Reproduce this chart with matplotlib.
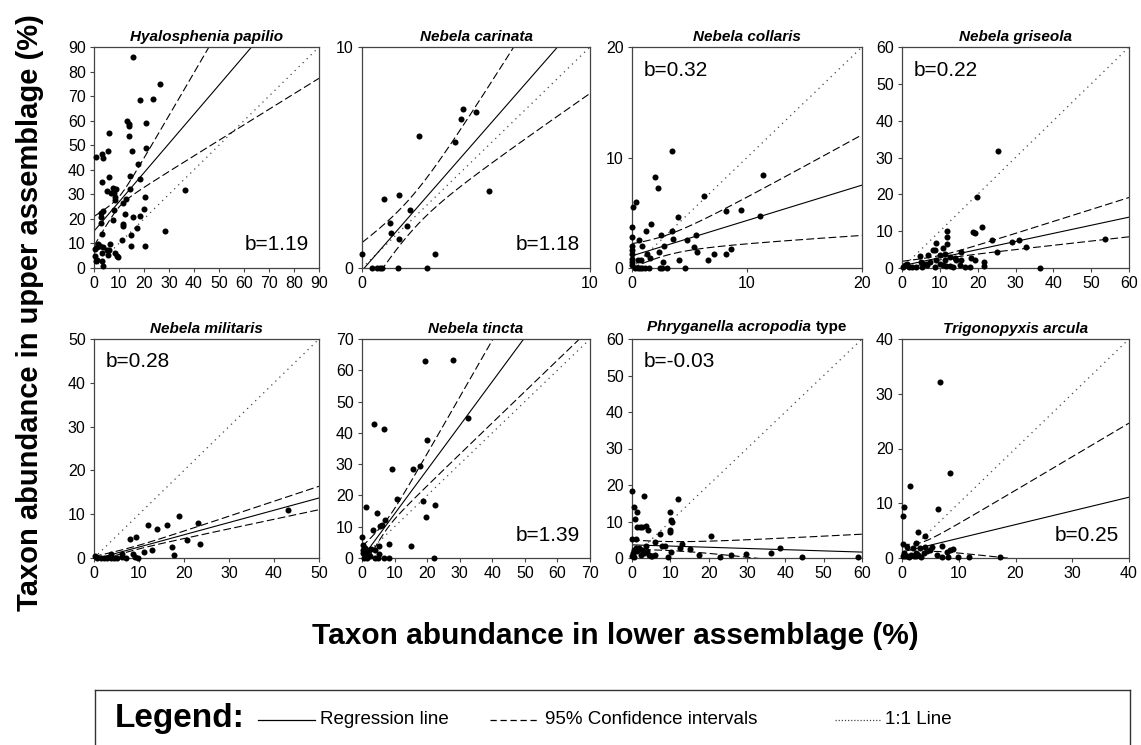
import matplotlib
matplotlib.use("Agg")
import matplotlib.pyplot as plt
import numpy as np
from matplotlib.offsetbox import TextArea, HPacker, AnchoredOffsetbox

plt.rcParams['font.family'] = ['Liberation Sans', 'DejaVu Sans']
NARROW = ['Liberation Sans Narrow', 'Liberation Sans', 'DejaVu Sans']

# (lower assemblage %, upper assemblage %)
papilio = [(15.4, 86), (26.5, 75), (18.2, 68.6), (23.6, 68.9), (13.0, 59.8), (13.9, 58.6),
           (13.9, 57.8), (20.7, 58.9), (6.0, 55.1), (13.8, 53.7), (5.7, 47.8), (15.0, 47.6),
           (20.7, 48.7), (0.7, 45.3), (3.1, 46.3), (3.6, 44.7), (17.4, 42.2), (6.1, 37.2),
           (14.3, 37.5), (18.3, 36.3), (3.3, 35.2), (7.7, 32.5), (8.8, 32.2), (8.1, 30.4),
           (8.4, 29.1), (5.0, 31.5), (6.6, 30.4), (14.5, 32.3), (36.3, 31.8), (20.3, 28.8),
           (8.4, 27.7), (11.7, 26.4), (12.6, 28.0), (3.5, 23.4), (2.9, 22.3), (8.1, 23.7),
           (19.9, 24.0), (2.7, 20.7), (2.9, 18.5), (7.7, 19.6), (12.2, 22.1), (15.4, 20.7),
           (18.3, 21.2), (11.7, 18.0), (11.7, 17.2), (17.3, 16.1), (28.3, 14.9), (3.3, 13.8),
           (11.2, 11.2), (14.6, 13.3), (1.7, 9.9), (2.4, 9.1), (6.4, 9.9), (0.5, 7.7),
           (1.3, 8.5), (3.7, 8.5), (5.0, 7.4), (6.1, 7.2), (14.9, 8.8), (20.2, 8.8),
           (0.5, 4.7), (3.1, 6.1), (8.4, 6.1), (9.0, 5.0), (9.7, 4.5), (5.4, 5.4),
           (0.8, 2.7), (3.3, 2.7), (3.5, 0.7), (1.3, 3.4)]

carinata = [(0, 0.62), (0.44, 0), (0.67, 0), (0.78, 0), (0.89, 0), (1.58, 0), (2.84, 0),
            (3.22, 0.62), (0.98, 3.12), (1.63, 3.31), (2.09, 2.63), (1.22, 2.02), (1.26, 1.57),
            (1.63, 1.31), (1.98, 1.91), (2.50, 5.97), (4.06, 5.71), (4.36, 6.73), (4.44, 7.19),
            (4.98, 7.04), (5.56, 3.50)]

collaris = [(0.06, 5.54), (0.37, 5.93), (0, 3.72), (0, 2.81), (0, 1.97), (0, 1.60), (0, 1.30),
            (0, 0.85), (0, 0.54), (0, 0.24), (0.63, 2.51), (0.83, 1.97), (0.77, 0.70),
            (0.49, 0.70), (1.20, 3.33), (1.64, 3.96), (1.29, 1.30), (1.58, 0.91), (1.98, 8.20),
            (2.30, 7.20), (2.55, 2.97), (2.38, 1.45), (2.78, 1.97), (2.70, 0.54), (3.44, 10.62),
            (3.50, 3.36), (3.59, 2.63), (3.99, 4.60), (4.13, 0.70), (4.79, 2.51), (5.37, 1.91),
            (5.60, 2.97), (5.65, 1.45), (6.23, 6.51), (6.57, 0.70), (7.09, 1.30), (8.18, 5.17),
            (8.18, 1.24), (8.61, 1.69), (9.50, 5.23), (11.1, 4.69), (11.42, 8.44), (0.3, 0),
            (0.5, 0), (0.7, 0), (0.9, 0), (1.1, 0), (1.5, 0), (2.4, 0), (2.6, 0), (3.0, 0),
            (4.6, 0)]

griseola = [(25.5, 31.7), (19.9, 19.2), (21.2, 11.0), (18.8, 9.7), (19.2, 9.4), (12.0, 10.0),
            (12.0, 8.3), (12.0, 6.4), (9.1, 6.7), (8.2, 4.8), (8.8, 4.8), (4.7, 3.2), (6.9, 3.5),
            (10.8, 5.3), (11.4, 3.7), (12.6, 3.0), (13.9, 2.6), (15.5, 4.4), (23.9, 7.6),
            (25.1, 4.4), (29.2, 7.0), (30.8, 7.6), (32.7, 5.7), (53.6, 7.8), (36.4, 0),
            (21.6, 1.6), (21.6, 0.5), (19.2, 2.3), (18.3, 2.6), (18.1, 0.3), (15.2, 0.7),
            (16.6, 0.3), (15.7, 2.1), (10.0, 1.2), (10.8, 0.7), (11.7, 0.5), (12.6, 0.5),
            (13.5, 0.3), (8.6, 0.3), (9.1, 2.1), (6.3, 1.2), (6.7, 0.7), (5.1, 1.6), (5.4, 0.3),
            (3.8, 0.3), (2.7, 0.3), (1.9, 0.3), (0.7, 0.7), (0.3, 0.3), (1.2, 1.2), (5.5, 1.2),
            (7.3, 1.6), (10.0, 3.5), (11.3, 2.3), (14.4, 2.1)]

militaris = [(0.15, 0.5), (0.7, 0.1), (1.5, 0.1), (2.2, 0.1), (2.9, 0.1), (3.7, 0.1), (4.4, 0.1),
             (5.2, 0.1), (6.3, 0.2), (7.0, 0.1), (9.2, 0.2), (9.7, 0.1), (3.7, 1.0), (6.3, 1.0),
             (8.6, 1.0), (8.1, 4.3), (9.4, 4.9), (11.1, 1.4), (12.0, 7.5), (12.8, 1.9),
             (13.9, 6.6), (16.3, 7.5), (17.3, 2.5), (17.8, 0.6), (18.8, 9.65), (20.7, 4.0),
             (23.1, 8.0), (23.5, 3.2), (43.0, 11.0)]

tincta = [(19.3, 63.0), (28.0, 63.3), (32.6, 44.9), (3.8, 42.9), (6.7, 41.2), (20.1, 37.6),
          (9.3, 28.4), (15.6, 28.4), (17.7, 29.3), (10.8, 18.8), (1.2, 16.3), (18.8, 18.2),
          (22.3, 17.0), (19.8, 13.2), (4.6, 14.4), (7.2, 12.0), (6.1, 10.6), (5.6, 10.3),
          (3.4, 9.0), (0.1, 6.6), (8.2, 4.5), (15.0, 3.7), (5.1, 3.7), (22.0, 0), (0.2, 4.3),
          (0.2, 2.7), (0.2, 1.6), (1.0, 3.2), (1.5, 1.6), (2.0, 2.7), (2.9, 3.0), (4.1, 2.7),
          (5.3, 1.4), (0.5, 0), (1.5, 0), (4.1, 0), (4.9, 0), (6.9, 0), (8.2, 0), (2.6, 0.5)]

acropodia = [(0, 18.4), (3.0, 17.0), (12.1, 16.2), (0.4, 13.9), (1.3, 12.7), (0.85, 10.8),
             (9.8, 12.5), (10.2, 10.5), (10.4, 10.0), (1.3, 8.6), (2.1, 8.6), (2.7, 8.6),
             (3.6, 8.7), (4.1, 7.7), (9.8, 7.7), (10.0, 7.1), (7.2, 6.7), (20.6, 6.1), (0, 5.2),
             (1.0, 5.2), (6.1, 4.3), (7.7, 3.4), (8.5, 3.2), (13.1, 3.8), (12.5, 2.7),
             (15.2, 2.5), (17.6, 0.9), (23.0, 0.4), (25.7, 0.9), (29.8, 1.2), (36.3, 1.5),
             (38.5, 2.7), (44.3, 0.4), (9.5, 0.4), (10.1, 1.6), (0.2, 1.4), (0.6, 2.3),
             (1.0, 2.7), (1.4, 1.8), (1.9, 2.7), (2.3, 0.9), (2.7, 2.3), (3.2, 1.4), (3.6, 3.2),
             (4.0, 1.8), (4.4, 0.9), (4.9, 0.5), (5.3, 0.5), (6.1, 0.9), (0.1, 0.5), (0.6, 0.2),
             (59.0, 0.3)]

arcula = [(6.65, 32.2), (8.4, 15.6), (1.35, 13.2), (0.4, 9.3), (0.1, 7.6), (6.35, 9.0),
          (2.8, 4.7), (4.1, 4.0), (0.1, 2.55), (0.9, 2.1), (2.5, 2.7), (1.9, 1.8), (3.2, 1.8),
          (4.0, 2.1), (5.3, 2.0), (7.1, 2.25), (8.4, 1.5), (9.0, 1.6), (7.9, 1.1), (6.2, 0.6),
          (7.1, 0.2), (8.1, 0.2), (9.9, 0.2), (11.8, 0.2), (17.2, 0.2), (0.1, 0.3), (0.5, 0.3),
          (0.9, 0.4), (1.3, 0.2), (1.6, 0.6), (2.1, 0.3), (2.5, 0.4), (2.9, 0.6), (3.4, 0.2),
          (3.8, 0.9), (4.4, 1.2), (5.0, 1.4), (0.3, 0.9), (2.4, 1.0)]

taxa = ["Hyalosphenia papilio", "Nebela carinata", "Nebela collaris", "Nebela griseola",
        "Nebela militaris", "Nebela tincta", "Phryganella acropodia", "Trigonopyxis arcula"]
points = [papilio, carinata, collaris, griseola, militaris, tincta, acropodia, arcula]
axis_max = [90, 10, 20, 60, 50, 70, 60, 40]
tick_step = [10, 10, 10, 10, 10, 10, 10, 10]
b_labels = ["b=1.19", "b=1.18", "b=0.32", "b=0.22", "b=0.28", "b=1.39", "b=-0.03", "b=0.25"]
b_corner = ["lr", "lr", "ul", "ul", "ul", "lr", "ul", "lr"]
# regression line (intercept, slope) and 95% CI band (x mean, half-width at mean, slope error)
reg_intercept = [15.0, -0.12, 1.1, 0.6, -0.3, 0.0, 3.6, 1.1]
reg_slope = [1.19, 1.18, 0.32, 0.22, 0.28, 1.41, -0.033, 0.25]
ci_xmean = [10, 2.13, 2.5, 10, 8, 8, 7, 3]
ci_s0 = [2.1, 0.78, 0.9, 0.6, 0.4, 1.5, 1.2, 0.87]
ci_k = [0.56, 0.47, 0.255, 0.106, 0.063, 0.41, 0.0897, 0.365]

W, H = 1141, 745
fig = plt.figure(figsize=(W / 100, H / 100), dpi=100)

col_left = [94, 362, 632, 902]
col_right = [319, 590, 862, 1129]
row_top = [47, 339]
row_bot = [268, 558]

for i, name in enumerate(taxa):
    r, c = divmod(i, 4)
    ax = fig.add_axes([col_left[c] / W, 1 - row_bot[r] / H,
                       (col_right[c] - col_left[c]) / W, (row_bot[r] - row_top[r]) / H])
    m = axis_max[i]
    xs = np.array([p[0] for p in points[i]])
    ys = np.array([p[1] for p in points[i]])

    xx = np.linspace(0, m, 300)
    yhat = reg_intercept[i] + reg_slope[i] * xx
    hw = np.sqrt(ci_s0[i] ** 2 + (ci_k[i] * (xx - ci_xmean[i])) ** 2)
    ax.plot([0, m], [0, m], color='#444444', lw=0.9, ls=(0, (1, 3.5)))
    ax.plot(xx, yhat, color='black', lw=0.8)
    ax.plot(xx, yhat + hw, color='black', lw=0.8, ls=(0, (7, 3)))
    ax.plot(xx, yhat - hw, color='black', lw=0.8, ls=(0, (7, 3)))
    ax.scatter(xs, ys, s=19, color='black', zorder=5, clip_on=False, linewidths=0)

    ax.set_xlim(0, m)
    ax.set_ylim(0, m)
    ticks = np.arange(0, m + 0.1, tick_step[i])
    ax.set_xticks(ticks)
    ax.set_yticks(ticks)
    ax.tick_params(direction='out', length=3, width=0.8, labelsize=11.5, color='#444444', pad=3)
    for sp in ax.spines.values():
        sp.set_color('#444444')
        sp.set_linewidth(0.9)

    if name == "Phryganella acropodia":
        box = HPacker(children=[
            TextArea(name + " ", textprops=dict(style='italic', weight='bold', size=11)),
            TextArea("type", textprops=dict(weight='bold', size=11))],
            align='baseline', pad=0, sep=0)
        ab = AnchoredOffsetbox(loc='lower center', child=box, pad=0, borderpad=0,
                               frameon=False, bbox_to_anchor=(0.5, 1.025),
                               bbox_transform=ax.transAxes)
        ax.add_artist(ab)
    else:
        ax.set_title(name, fontsize=11, fontweight='bold', style='italic', pad=4)

    if b_corner[i] == "lr":
        ax.text(0.955, 0.105, b_labels[i], transform=ax.transAxes, ha='right', va='center',
                fontsize=15)
    else:
        ax.text(0.05, 0.895, b_labels[i], transform=ax.transAxes, ha='left', va='center',
                fontsize=15)

fig.text(615 / W, 1 - 636 / H, "Taxon abundance in lower assemblage (%)",
         ha='center', va='center', fontsize=21.5, fontweight='bold')
fig.text(30 / W, 1 - 313 / H, "Taxon abundance in upper assemblage (%)",
         ha='center', va='center', rotation=90, fontsize=21, fontweight='bold')

# legend box (open at the bottom, as in the original)
lx0, lx1, ly0 = 95, 1130, 690
leg = fig.add_axes([lx0 / W, 0, (lx1 - lx0) / W, (H - ly0) / H])
leg.set_xlim(0, lx1 - lx0)
leg.set_ylim(H - ly0, 0)
leg.set_xticks([])
leg.set_yticks([])
leg.spines['bottom'].set_visible(False)
for s in ['top', 'left', 'right']:
    leg.spines[s].set_color('#333333')
    leg.spines[s].set_linewidth(1.0)
leg.text(20, 29, "Legend:", fontsize=24, fontweight='bold', family=NARROW, va='center')
leg.plot([163, 220], [30, 30], color='black', lw=0.9)
leg.text(225, 30, "Regression line", fontsize=13.5, family=NARROW, va='center')
leg.plot([395, 445], [30, 30], color='black', lw=0.9, ls=(0, (5, 3)))
leg.text(450, 30, "95% Confidence intervals", fontsize=13.5, family=NARROW, va='center')
leg.plot([740, 785], [30, 30], color='#444444', lw=0.9, ls=(0, (1, 1.5)))
leg.text(790, 30, "1:1 Line", fontsize=13.5, family=NARROW, va='center')

fig.savefig("out.png", dpi=100)
